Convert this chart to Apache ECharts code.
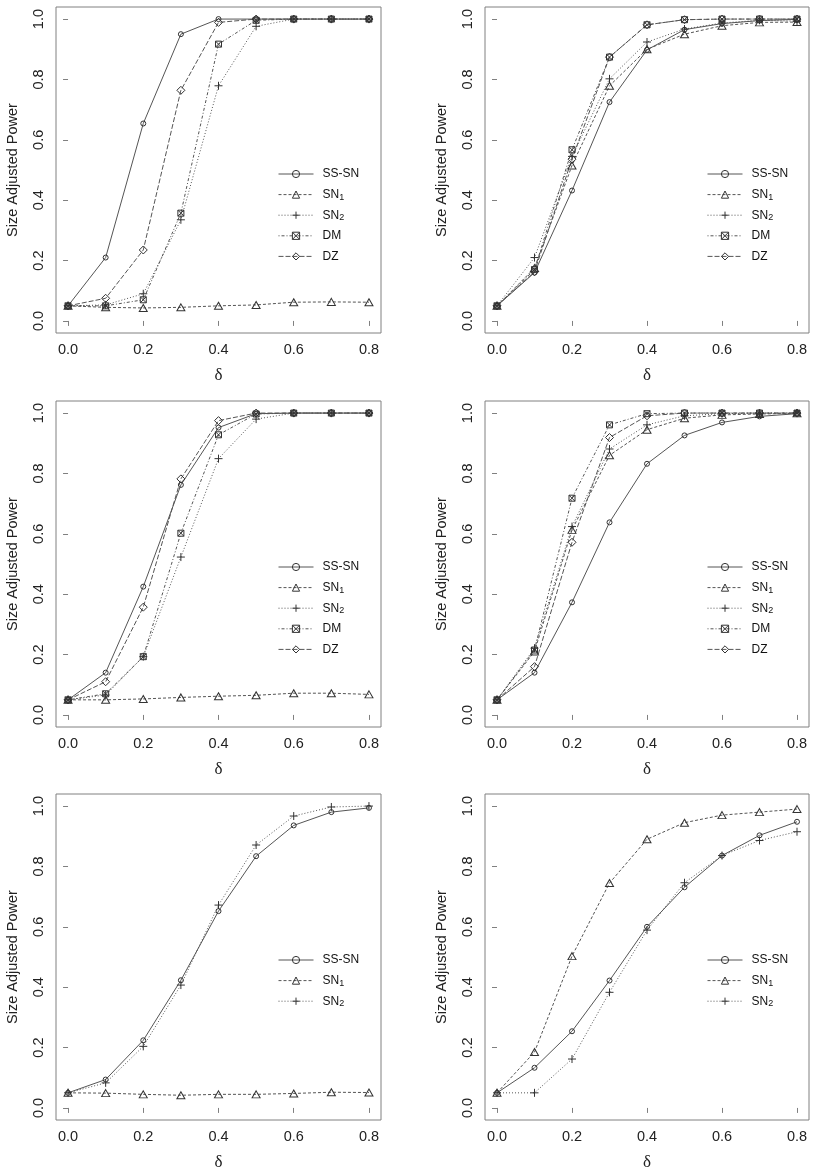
<!DOCTYPE html>
<html>
<head>
<meta charset="utf-8">
<script src="https://cdn.jsdelivr.net/npm/echarts@6/dist/echarts.min.js"></script>
<style>
html, body { margin: 0; padding: 0; background: #fff; }
#main { width: 818px; height: 1173px; }
</style>
</head>
<body>
<div id="main"></div>
<script>
// x values (delta) and axis ticks
var delta = [0, 0.1, 0.2, 0.3, 0.4, 0.5, 0.6, 0.7, 0.8];
var xTicks = [0, 0.2, 0.4, 0.6, 0.8];
var yTicks = [0, 0.2, 0.4, 0.6, 0.8, 1.0];
var testNames = ['SS-SN', 'SN1', 'SN2', 'DM', 'DZ'];

// panel 1 (top left)
var p1SSSN = [0.05, 0.21, 0.654, 0.95, 1.0, 1.0, 1.0, 1.0, 1.0];
var p1SN1  = [0.05, 0.045, 0.043, 0.045, 0.05, 0.053, 0.062, 0.063, 0.062];
var p1SN2  = [0.05, 0.053, 0.09, 0.335, 0.779, 0.976, 1.0, 1.0, 1.0];
var p1DM   = [0.05, 0.05, 0.07, 0.357, 0.917, 0.996, 1.0, 1.0, 1.0];
var p1DZ   = [0.05, 0.075, 0.235, 0.764, 0.989, 1.0, 1.0, 1.0, 1.0];

// panel 2 (top right)
var p2SSSN = [0.05, 0.16, 0.432, 0.725, 0.898, 0.965, 0.985, 0.995, 0.999];
var p2SN1  = [0.05, 0.175, 0.515, 0.779, 0.90, 0.95, 0.978, 0.989, 0.99];
var p2SN2  = [0.05, 0.21, 0.545, 0.802, 0.924, 0.967, 0.987, 0.996, 0.993];
var p2DM   = [0.05, 0.17, 0.567, 0.874, 0.981, 0.998, 1.0, 1.0, 1.0];
var p2DZ   = [0.05, 0.163, 0.536, 0.874, 0.981, 0.998, 1.0, 1.0, 1.0];

// panel 3 (middle left)
var p3SSSN = [0.05, 0.14, 0.425, 0.762, 0.952, 0.998, 1.0, 1.0, 1.0];
var p3SN1  = [0.05, 0.05, 0.053, 0.058, 0.062, 0.065, 0.072, 0.072, 0.068];
var p3SN2  = [0.05, 0.066, 0.193, 0.523, 0.849, 0.98, 1.0, 1.0, 1.0];
var p3DM   = [0.05, 0.07, 0.193, 0.602, 0.928, 0.997, 1.0, 1.0, 1.0];
var p3DZ   = [0.05, 0.11, 0.357, 0.782, 0.975, 1.0, 1.0, 1.0, 1.0];

// panel 4 (middle right)
var p4SSSN = [0.05, 0.14, 0.373, 0.638, 0.832, 0.926, 0.969, 0.989, 0.998];
var p4SN1  = [0.05, 0.21, 0.613, 0.86, 0.945, 0.983, 0.994, 0.997, 0.999];
var p4SN2  = [0.05, 0.221, 0.624, 0.881, 0.961, 0.991, 0.998, 1.0, 1.0];
var p4DM   = [0.05, 0.215, 0.718, 0.961, 0.998, 1.0, 1.0, 1.0, 1.0];
var p4DZ   = [0.05, 0.16, 0.572, 0.919, 0.991, 1.0, 1.0, 1.0, 1.0];

// panel 5 (bottom left)
var p5SSSN = [0.05, 0.094, 0.224, 0.423, 0.652, 0.834, 0.936, 0.98, 0.994];
var p5SN1  = [0.05, 0.049, 0.045, 0.042, 0.045, 0.045, 0.048, 0.052, 0.051];
var p5SN2  = [0.05, 0.083, 0.204, 0.407, 0.672, 0.871, 0.967, 0.997, 1.0];

// panel 6 (bottom right)
var p6SSSN = [0.05, 0.133, 0.254, 0.422, 0.60, 0.731, 0.836, 0.903, 0.948];
var p6SN1  = [0.05, 0.185, 0.503, 0.745, 0.89, 0.945, 0.97, 0.98, 0.99];
var p6SN2  = [0.05, 0.05, 0.162, 0.383, 0.589, 0.746, 0.836, 0.886, 0.915];

var panels = [
	[p1SSSN, p1SN1, p1SN2, p1DM, p1DZ],
	[p2SSSN, p2SN1, p2SN2, p2DM, p2DZ],
	[p3SSSN, p3SN1, p3SN2, p3DM, p3DZ],
	[p4SSSN, p4SN1, p4SN2, p4DM, p4DZ],
	[p5SSSN, p5SN1, p5SN2],
	[p6SSSN, p6SN1, p6SN2]
];

// plot boxes in px
var boxes = [
	{ left: 56, top: 7, width: 325, height: 326 },
	{ left: 485, top: 7, width: 324, height: 326 },
	{ left: 56, top: 401, width: 325, height: 326 },
	{ left: 485, top: 401, width: 324, height: 326 },
	{ left: 56, top: 794, width: 325, height: 326 },
	{ left: 485, top: 794, width: 324, height: 326 }
];
var legendPos = [
	{ left: 278, top: 165 }, { left: 707, top: 165 },
	{ left: 278, top: 558 }, { left: 707, top: 558 },
	{ left: 278, top: 951 }, { left: 707, top: 951 }
];

// R style symbols / line types
var symbols = {
	'SS-SN': { symbol: 'path://M10,5A5,5,0,1,1,0,5A5,5,0,1,1,10,5Z', size: 5, dash: 'solid' },
	'SN1': { symbol: 'path://M5,0L10,9L0,9Z', size: [8, 7], dash: [3, 2] },
	'SN2': { symbol: 'path://M5,0L5,10M0,5L10,5', size: 8, dash: [1, 2] },
	'DM': { symbol: 'path://M0,0L10,0L10,10L0,10ZM0,0L10,10M10,0L0,10', size: 6, dash: [1, 2, 3, 2] },
	'DZ': { symbol: 'path://M5,0L10,5L5,10L0,5Z', size: 8, dash: [5, 2] }
};

var font = 'Liberation Sans, Arial, sans-serif';
var grids = [], xAxes = [], yAxes = [], series = [], legends = [];

panels.forEach(function (panel, p) {
	grids.push({
		left: boxes[p].left, top: boxes[p].top,
		width: boxes[p].width, height: boxes[p].height,
		show: true, borderColor: '#808080', borderWidth: 1,
		backgroundColor: 'transparent', containLabel: false, outerBoundsMode: 'none'
	});
	xAxes.push({
		type: 'value', gridIndex: p, min: -0.032, max: 0.832,
		name: 'δ', nameLocation: 'middle', nameGap: 34,
		nameTextStyle: { fontFamily: 'Liberation Serif, serif', fontSize: 17, color: '#222' },
		axisLine: { show: false },
		axisTick: { show: true, inside: false, length: 5, customValues: xTicks, lineStyle: { color: '#808080' } },
		axisLabel: {
			customValues: xTicks, margin: 9, fontFamily: font, fontSize: 14.5, color: '#222',
			formatter: function (v) { return v.toFixed(1); }
		},
		splitLine: { show: false }
	});
	yAxes.push({
		type: 'value', gridIndex: p, min: -0.04, max: 1.04,
		name: 'Size Adjusted Power', nameLocation: 'middle', nameGap: 36,
		nameTextStyle: { fontFamily: font, fontSize: 14.5, color: '#222' },
		axisLine: { show: false },
		axisTick: { show: true, inside: false, length: 5, customValues: yTicks, lineStyle: { color: '#808080' } },
		axisLabel: {
			customValues: yTicks, rotate: 90, margin: 10, fontFamily: font, fontSize: 14.5, color: '#222',
			formatter: function (v) { return v.toFixed(1); }
		},
		splitLine: { show: false }
	});
	var names = testNames.slice(0, panel.length);
	panel.forEach(function (vals, k) {
		var nm = names[k];
		var st = symbols[nm];
		series.push({
			name: nm, type: 'line', xAxisIndex: p, yAxisIndex: p,
			data: delta.map(function (d, i) { return [d, vals[i]]; }),
			symbol: st.symbol, symbolSize: st.size, showAllSymbol: true,
			lineStyle: { color: '#555', width: 1, type: st.dash },
			itemStyle: { color: 'rgba(255,255,255,0)', borderColor: '#333', borderWidth: 1 },
			emphasis: { disabled: true }, silent: true
		});
	});
	legends.push({
		data: names, orient: 'vertical', left: legendPos[p].left, top: legendPos[p].top + 2,
		padding: 0, itemWidth: 35, itemHeight: 9, itemGap: 6.6, selectedMode: false,
		itemStyle: { color: 'rgba(255,255,255,0)', borderColor: '#333', borderWidth: 1 },
		lineStyle: { color: '#555', width: 1 },
		formatter: function (name) {
			var m = name.match(/^SN(\d)$/);
			return m ? '{n|SN}{s|' + m[1] + '}' : '{n|' + name + '}';
		},
		textStyle: {
			fontFamily: font, fontSize: 12, color: '#111', lineHeight: 14, padding: [0, 0, 0, 4],
			rich: {
				n: { fontFamily: font, fontSize: 12, lineHeight: 14, color: '#111' },
				s: { fontFamily: font, fontSize: 9, lineHeight: 8, verticalAlign: 'bottom', color: '#111' }
			}
		}
	});
});

var chart = echarts.init(document.getElementById('main'), null, { renderer: 'canvas' });
chart.setOption({
	animation: false,
	backgroundColor: '#fff',
	grid: grids,
	xAxis: xAxes,
	yAxis: yAxes,
	legend: legends,
	series: series
});
</script>
</body>
</html>
